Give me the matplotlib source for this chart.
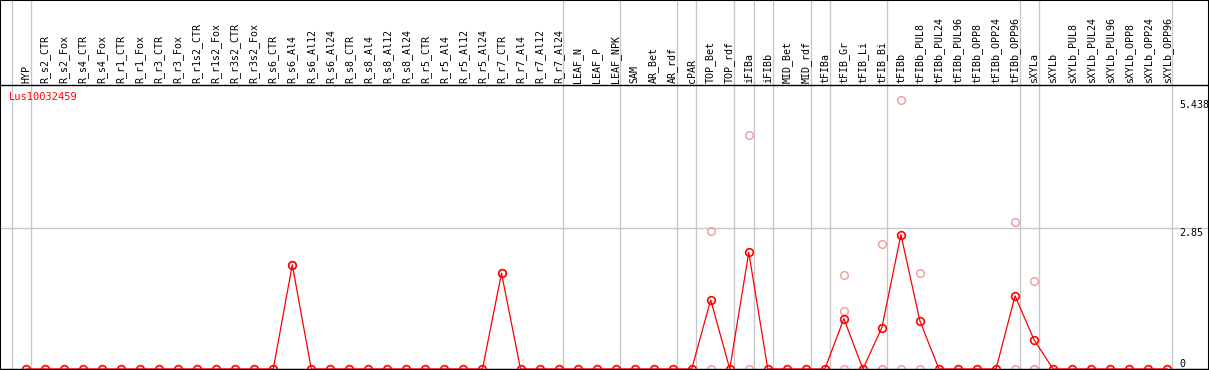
import numpy as np
import matplotlib.pyplot as plt
from matplotlib.patches import Rectangle
from matplotlib.transforms import blended_transform_factory

samples = ['HYP', 'R_s2_CTR', 'R_s2_Fox', 'R_s4_CTR', 'R_s4_Fox', 'R_r1_CTR', 'R_r1_Fox',
           'R_r3_CTR', 'R_r3_Fox', 'R_r1s2_CTR', 'R_r1s2_Fox', 'R_r3s2_CTR', 'R_r3s2_Fox',
           'R_s6_CTR', 'R_s6_Al4', 'R_s6_Al12', 'R_s6_Al24', 'R_s8_CTR', 'R_s8_Al4',
           'R_s8_Al12', 'R_s8_Al24', 'R_r5_CTR', 'R_r5_Al4', 'R_r5_Al12', 'R_r5_Al24',
           'R_r7_CTR', 'R_r7_Al4', 'R_r7_Al12', 'R_r7_Al24', 'LEAF_N', 'LEAF_P', 'LEAF_NPK',
           'SAM', 'AR_Bet', 'AR_rdf', 'cPAR', 'TOP_Bet', 'TOP_rdf', 'iFIBa', 'iFIBb',
           'MID_Bet', 'MID_rdf', 'tFIBa', 'tFIB_Gr', 'tFIB_Li', 'tFIB_Bi', 'tFIBb',
           'tFIBb_PUL8', 'tFIBb_PUL24', 'tFIBb_PUL96', 'tFIBb_OPP8', 'tFIBb_OPP24',
           'tFIBb_OPP96', 'sXYLa', 'sXYLb', 'sXYLb_PUL8', 'sXYLb_PUL24', 'sXYLb_PUL96',
           'sXYLb_OPP8', 'sXYLb_OPP24', 'sXYLb_OPP96']

# mean expression per sample (red line)
mean_expr = [0, 0, 0, 0, 0, 0, 0, 0, 0, 0, 0, 0, 0,
             0, 2.11, 0, 0, 0, 0, 0, 0, 0, 0, 0, 0,
             1.94, 0, 0, 0, 0, 0, 0,
             0, 0, 0, 0, 1.40, 0, 2.36, 0,
             0, 0, 0, 1.02, 0, 0.84, 2.72,
             0.97, 0, 0, 0, 0, 1.48,
             0.59, 0, 0, 0, 0, 0, 0, 0]

# individual replicates (pink circles), only samples with signal
replicates = {
    'R_s6_Al4': [2.11],
    'R_r7_CTR': [1.94],
    'TOP_Bet': [2.79, 0],
    'iFIBa': [4.73, 0],
    'tFIB_Gr': [1.90, 1.17, 0],
    'tFIB_Bi': [2.53, 0, 0],
    'tFIBb': [5.438, 0],
    'tFIBb_PUL8': [1.94, 0],
    'tFIBb_OPP96': [2.97, 0],
    'sXYLa': [1.78, 0, 0],
}

# last sample of each group (separator drawn just after it)
group_ends = [-1, 0, 28, 31, 34, 35, 37, 38, 39, 41, 42, 45, 52, 53, 60]

y_ticks = [0, 2.85, 5.438]
y_tick_labels = ['0', '2.85', '5.438']
gene = 'Lus10032459'

W, H = 1209, 370
fig = plt.figure(figsize=(W / 100, H / 100), dpi=100)
ax = fig.add_axes([0, 1 / H, 1, 284 / H])

px_per_unit = 49.4
step = 19.02
ax.set_xlim(-26 / step, (W - 26) / step)
ax.set_ylim(0, 284 / px_per_unit)

mono = 'DejaVu Sans Mono'
grid_c = '#c8c8c8'

for g in group_ends:
    ax.plot([g + 0.25, g + 0.25], [0, 369 / px_per_unit], color=grid_c, lw=1,
            zorder=0, clip_on=False)
ax.axhline(2.85, color=grid_c, lw=1, zorder=0)

x = np.arange(len(samples))
x_pos = {s: i for i, s in enumerate(samples)}

for s, vals in replicates.items():
    ax.plot([x_pos[s]] * len(vals), vals, 'o', mfc='none', mec='#f09a9a', ms=5.5,
            mew=1.0, clip_on=False, zorder=2)

ax.plot(x, mean_expr, '-', color='red', lw=0.9, zorder=3, clip_on=False)
ax.plot(x, mean_expr, 'o', mfc='none', mec='red', ms=5.5, mew=1.2, zorder=4,
        clip_on=False)

ax.xaxis.tick_top()
ax.set_xticks(x)
ax.set_xticklabels(samples, rotation=90, fontsize=7.2, family=mono)
ax.tick_params(axis='x', length=0, pad=1.5)
ax.set_yticks([])

trans = blended_transform_factory(ax.transAxes, ax.transData)
for v, t in zip(y_ticks, y_tick_labels):
    ax.text(1179 / W, v, t, transform=trans, fontsize=7.2, family=mono,
            ha='left', va='bottom' if v == 0 else 'top')

ax.text(9 / W, (369 - 97) / 284, gene, transform=ax.transAxes, color='red',
        fontsize=7.5, family=mono, ha='left', va='center')

for side in ['left', 'right']:
    ax.spines[side].set_visible(False)
for side in ['top', 'bottom']:
    ax.spines[side].set_linewidth(1)

fig.add_artist(Rectangle((0, 0), 1, 1, transform=fig.transFigure, fill=False,
                         lw=1.5, ec='black'))

fig.savefig('out.png', dpi=100)
